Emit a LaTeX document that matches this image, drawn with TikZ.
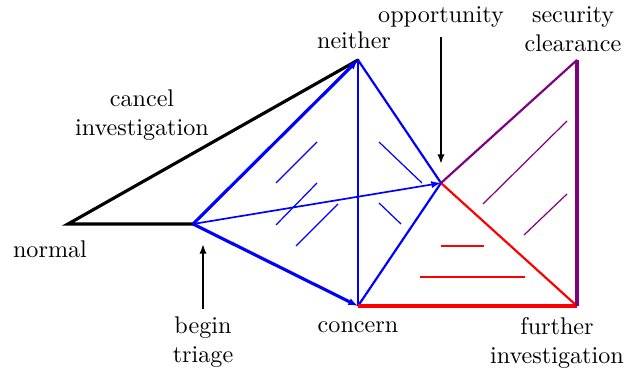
\documentclass[tikz,border=0pt]{standalone}
\usetikzlibrary{arrows.meta}
\begin{document}
\begin{tikzpicture}[x=0.01455cm, y=-0.01455cm, >={Latex[length=4pt,width=3pt]},
  every node/.style={align=center, inner sep=1pt},
  edge/.style={line width=1.3pt},
  side/.style={line width=0.9pt},
  hatch/.style={line width=0.5pt}]
\useasboundingbox (0,0) rectangle (626,371);
\definecolor{purp}{rgb}{0.5,0,0.5}
% points
\coordinate (normal) at (68,224);
\coordinate (triage) at (193,224);
\coordinate (neither) at (358,60);
\coordinate (concern) at (358,306);
\coordinate (opp) at (441,183);
\coordinate (secur) at (577,60);
\coordinate (further) at (577,306);
\coordinate (opptop) at (441,37);
\coordinate (oppbot) at (441,164);
\coordinate (trbot) at (203,309);
\coordinate (trtop) at (203,244);
% labels
\node (lnormal) at (50,249) {normal};
\node (lcancel) at (142,115) {cancel\\investigation};
\node (lneither) at (354,40) {neither};
\node (lopp) at (441,17) {opportunity};
\node (lsecur) at (573,29) {security\\clearance};
\node (ltriage) at (203,342) {begin\\triage};
\node (lconcern) at (358,327) {concern};
\node (lfurther) at (557,343) {further\\investigation};
% black
\draw[edge, line cap=round] (triage) -- (normal) -- (neither);
\draw[->, line width=1.2pt] (opptop) -- (oppbot);
\draw[->, line width=1.2pt] (trbot) -- (trtop);
% blue
\draw[blue, edge, ->] (triage) -- (neither);
\draw[blue, edge, ->] (triage) -- (concern);
\draw[blue, side] (neither) -- (concern);
\draw[blue, side] (neither) -- (opp) -- (concern);
\draw[blue, ->, line width=0.7pt] (triage) -- (opp);
\foreach \a/\b/\c/\d in {276/183/317/142, 276/225/317/183, 296/246/338/204,
  379/142/422/183, 379/203/401/224}
  \draw[blue, hatch] (\a,\b) -- (\c,\d);
% red
\draw[red, line width=1.6pt] (concern) -- (further);
\draw[red, side] (opp) -- (further);
\foreach \a/\b/\c in {441/484/246, 420/525/277}
  \draw[red, side] (\a,\c) -- (\b,\c);
% purple
\draw[purp, side] (opp) -- (secur);
\draw[purp, edge] (secur) -- (further);
\foreach \a/\b/\c/\d in {483/204/567/121, 524/235/567/194}
  \draw[purp, hatch] (\a,\b) -- (\c,\d);
\end{tikzpicture}
\end{document}
